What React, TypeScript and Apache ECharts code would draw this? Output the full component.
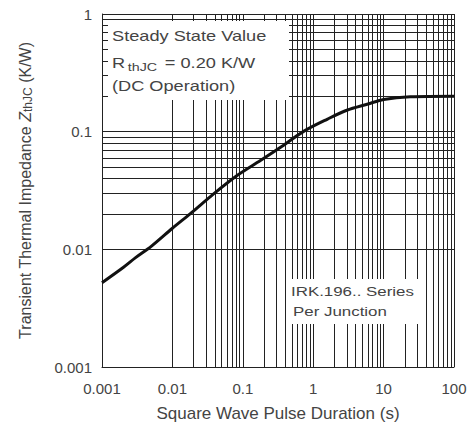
import React, { useEffect, useRef } from "react";
import * as echarts from "echarts";

const pulseDuration = [0.001, 0.002, 0.003, 0.005, 0.01, 0.018, 0.0385, 0.083, 0.178, 0.344, 0.74, 1.6, 3, 6, 10, 24, 100];
const impedance = [0.0052, 0.007, 0.0085, 0.0106, 0.0151, 0.0201, 0.0296, 0.0424, 0.0568, 0.0736, 0.101, 0.128, 0.152, 0.172, 0.188, 0.198, 0.2];
const xDecades = [-3, -2, -1, 0, 1];
const yDecades = [-3, -2, -1];
const xTickLabels = ["0.001", "0.01", "0.1", "1", "10", "100"];
const yTickLabels = ["0.001", "0.01", "0.1", "1"];

function gridValues(decades: number[], top: number) {
  const out: number[] = [];
  decades.forEach((k) => {
    for (let m = 1; m <= 9; m++) out.push(parseFloat((m * Math.pow(10, k)).toPrecision(3)));
  });
  out.push(top);
  return out;
}

const fmt = (v: number) => String(parseFloat(Number(v).toPrecision(3)));
const FONT = "Liberation Sans";
const TXT = "#444";
const SX = 1.3;

export default function App() {
  const ref = useRef<HTMLDivElement>(null);
  useEffect(() => {
    if (!ref.current) return;
    const chart = echarts.init(ref.current, null, { renderer: "svg" });
    const xGrid = gridValues(xDecades, 100);
    const yGrid = gridValues(yDecades, 1);
    const pts = pulseDuration.map((x, i) => [x, impedance[i]]);
    chart.setOption({
      animation: false,
      backgroundColor: "#fff",
      grid: { left: 102, right: 18, top: 14, bottom: 66 },
      xAxis: {
        type: "log",
        logBase: 10,
        min: 0.001,
        max: 100,
        name: "Square Wave Pulse Duration (s)",
        nameLocation: "middle",
        nameGap: 38,
        nameTextStyle: { fontFamily: FONT, fontSize: 17, color: TXT },
        axisLine: { show: true, lineStyle: { color: "#222" } },
        axisTick: { show: false },
        splitLine: { show: false },
        axisLabel: {
          fontFamily: FONT,
          fontSize: 15,
          color: TXT,
          margin: 14,
          formatter: (v: number) => (xTickLabels.includes(fmt(v)) ? fmt(v) : ""),
        },
      },
      yAxis: {
        type: "log",
        logBase: 10,
        min: 0.001,
        max: 1,
        name: "{a|Transient Thermal Impedance }{z|Z}{s|thJC}{a| (K/W)}",
        nameLocation: "middle",
        nameGap: 68,
        nameTextStyle: {
          fontFamily: FONT,
          color: TXT,
          rich: {
            a: { fontFamily: FONT, fontSize: 16, color: TXT },
            z: { fontFamily: FONT, fontSize: 16, color: TXT, fontStyle: "italic" },
            s: { fontFamily: FONT, fontSize: 12, color: TXT, verticalAlign: "bottom", padding: [6, 0, 0, 0] },
          },
        },
        axisLine: { show: true, lineStyle: { color: "#222" } },
        axisTick: { show: false },
        splitLine: { show: false },
        axisLabel: {
          fontFamily: FONT,
          fontSize: 15,
          color: TXT,
          margin: 10,
          formatter: (v: number) => (yTickLabels.includes(fmt(v)) ? fmt(v) : ""),
        },
      },
      series: [
        {
          type: "line",
          data: pts,
          z: 1,
          showSymbol: false,
          lineStyle: { opacity: 0 },
          silent: true,
          markLine: {
            silent: true,
            symbol: "none",
            label: { show: false },
            lineStyle: { color: "#222", width: 1, type: "solid" },
            data: [
              ...xGrid.map((v) => ({ xAxis: v })),
              ...yGrid.map((v) => ({ yAxis: v })),
            ],
          },
        },
        {
          type: "line",
          data: pts,
          z: 5,
          smooth: 0.3,
          showSymbol: false,
          lineStyle: { color: "#111", width: 3 },
        },
      ],
      graphic: [
        { type: "rect", z: 100, shape: { x: 108, y: 21, width: 181, height: 79 }, style: { fill: "#fff" } },
        {
          type: "text", z: 101, x: 112, y: 29, scaleX: SX,
          style: { text: "Steady State Value", fontFamily: FONT, fontSize: 14, fill: TXT },
        },
        {
          type: "text", z: 101, x: 112, y: 52, scaleX: SX,
          style: {
            text: "{r|R}{s|thJC}{r| = 0.20 K/W}",
            rich: {
              r: { fontFamily: FONT, fontSize: 14, fill: TXT, color: TXT },
              s: { fontFamily: FONT, fontSize: 11, fill: TXT, color: TXT, padding: [10, 2, 0, 2] },
            },
          },
        },
        {
          type: "text", z: 101, x: 112, y: 79, scaleX: SX,
          style: { text: "(DC Operation)", fontFamily: FONT, fontSize: 14, fill: TXT },
        },
        { type: "rect", z: 100, shape: { x: 289, y: 279, width: 137, height: 45 }, style: { fill: "#fff" } },
        {
          type: "text", z: 101, x: 291, y: 285, scaleX: SX,
          style: { text: "IRK.196.. Series", fontFamily: FONT, fontSize: 13, fill: TXT },
        },
        {
          type: "text", z: 101, x: 293, y: 305, scaleX: SX,
          style: { text: "Per Junction", fontFamily: FONT, fontSize: 13, fill: TXT },
        },
      ],
    });
    return () => chart.dispose();
  }, []);
  return <div ref={ref} style={{ position: "absolute", left: 0, top: 0, width: 472, height: 433 }} />;
}
